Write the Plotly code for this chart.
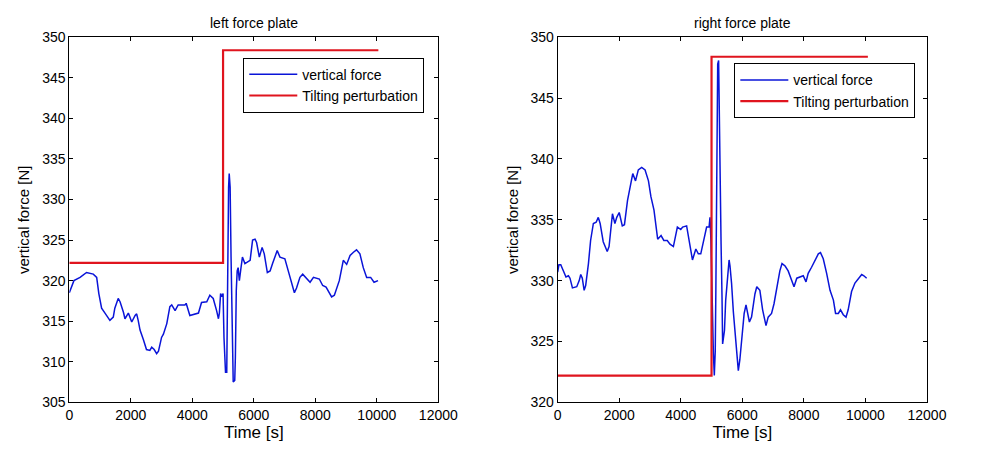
import plotly.graph_objects as go

# ---- data ----
left_t = [0, 150, 350, 560, 780, 890, 960, 1050, 1160, 1320, 1430, 1480, 1590, 1650, 1760, 1810, 1920, 1980, 2030,
          2140, 2190, 2240, 2300, 2410, 2510, 2620, 2680, 2760, 2840, 2900, 3000, 3060, 3170, 3270, 3330, 3440,
          3540, 3760, 3800, 3920, 4200, 4300, 4470, 4570, 4680, 4790, 4850, 4880, 4920, 4960, 5000, 5030, 5080,
          5120, 5140, 5160, 5180, 5200, 5230, 5260, 5290, 5330, 5380, 5400, 5430, 5460, 5490, 5530, 5570, 5630,
          5710, 5820, 5880, 5960, 6040, 6090, 6180, 6270, 6340, 6440, 6530, 6610, 6690, 6760, 6850, 7010, 7150,
          7320, 7390, 7500, 7590, 7700, 7830, 7940, 8130, 8240, 8350, 8530, 8620, 8780, 8910, 9020, 9130, 9240,
          9340, 9450, 9560, 9670, 9800, 9910, 10000, 10040]
left_f = [318.5, 320.0, 320.4, 321.0, 320.8, 320.4, 318.4, 316.6, 316.0, 315.1, 315.5, 316.6, 317.8, 317.4, 316.1,
          315.3, 316.0, 315.5, 314.9, 315.7, 315.9, 315.1, 313.9, 312.7, 311.5, 311.4, 311.8, 311.5, 311.0, 311.3,
          313.0, 313.4, 314.7, 316.8, 317.0, 316.3, 317.0, 317.0, 317.2, 315.7, 316.0, 317.3, 317.4, 318.2, 317.8,
          316.3, 315.3, 316.0, 318.4, 318.0, 318.4, 313.0, 308.7, 308.7, 319.2, 322.5, 331.5, 333.2, 331.5, 322.9,
          314.3, 307.5, 307.7, 310.5, 318.8, 321.2, 321.6, 320.0, 321.2, 322.9, 322.1, 322.3, 322.5, 325.0, 325.1,
          324.7, 322.9, 324.1, 323.3, 321.0, 321.2, 322.1, 322.9, 323.7, 322.9, 322.7, 320.8, 318.5, 319.1, 320.4,
          320.8, 320.4, 319.8, 320.4, 320.2, 319.4, 319.2, 318.0, 318.2, 320.0, 322.5, 322.0, 323.1, 323.5, 323.8,
          323.3, 321.6, 320.4, 320.4, 319.8, 320.0, 320.0]

right_t = [0, 40, 100, 180, 270, 350, 400, 480, 620, 700, 750, 800, 860, 910, 1000, 1070, 1160, 1250, 1320, 1380,
           1480, 1610, 1670, 1780, 1860, 1920, 2000, 2100, 2170, 2270, 2350, 2440, 2530, 2620, 2730, 2840, 2950,
           3030, 3130, 3250, 3360, 3450, 3560, 3650, 3760, 3890, 4000, 4060, 4190, 4280, 4380, 4490, 4570, 4650,
           4770, 4840, 4920, 4950, 4980, 5030, 5060, 5090, 5120, 5140, 5180, 5200, 5230, 5260, 5310, 5340, 5360,
           5420, 5460, 5510, 5570, 5600, 5650, 5710, 5780, 5870, 5920, 5990, 6060, 6120, 6170, 6230, 6300, 6410,
           6470, 6570, 6660, 6770, 6840, 6950, 7030, 7140, 7220, 7290, 7390, 7490, 7600, 7680, 7770, 7870, 7980,
           8070, 8140, 8250, 8360, 8470, 8540, 8630, 8740, 8850, 8960, 9030, 9120, 9190, 9280, 9370, 9440, 9550,
           9660, 9770, 9880, 9950, 10040]
right_f = [330.7, 331.3, 331.3, 330.8, 330.3, 330.4, 330.2, 329.4, 329.5, 330.0, 330.5, 330.2, 329.2, 329.6, 331.4,
           333.3, 334.7, 334.8, 335.2, 334.7, 333.2, 332.4, 332.8, 335.5, 334.7, 335.2, 335.6, 334.5, 334.6, 336.6,
           337.7, 338.8, 338.2, 339.1, 339.3, 339.1, 338.2, 336.9, 335.8, 333.4, 333.7, 333.3, 333.3, 333.0, 332.8,
           334.4, 334.2, 334.4, 334.5, 333.2, 331.7, 332.6, 332.2, 332.2, 333.6, 334.4, 334.4, 335.2, 333.3, 325.4,
           324.0, 322.2, 324.2, 329.1, 344.8, 347.8, 348.1, 340.7, 333.0, 328.7, 324.8, 325.9, 328.4, 329.9, 331.7,
           331.2, 329.8, 327.4, 325.1, 322.6, 323.5, 325.4, 327.3, 328.0, 327.3, 326.6, 327.0, 328.9, 329.5, 329.2,
           327.6, 326.3, 327.0, 327.3, 328.1, 329.8, 330.8, 331.4, 331.2, 330.8, 330.0, 329.5, 330.2, 330.3, 330.4,
           329.9, 330.6, 331.1, 331.7, 332.2, 332.3, 331.8, 330.6, 329.2, 328.4, 327.3, 327.3, 327.6, 327.2, 327.0,
           327.6, 329.1, 329.8, 330.2, 330.5, 330.4, 330.2]

left_step_t = [0, 5000, 5000, 10050]
left_step_f = [322.2, 322.2, 348.4, 348.4]
right_step_t = [0, 5000, 5000, 10080]
right_step_f = [322.2, 322.2, 348.4, 348.4]

x_ticks = [0, 2000, 4000, 6000, 8000, 10000, 12000]
x_tick_labels = ["0", "2000", "4000", "6000", "8000", "10000", "12000"]
left_y_ticks = [305, 310, 315, 320, 325, 330, 335, 340, 345, 350]
right_y_ticks = [320, 325, 330, 335, 340, 345, 350]

BLUE = "#0a14d8"
RED = "#e0141e"
FONT = "Liberation Sans, Arial, sans-serif"

fig = go.Figure()
fig.add_trace(go.Scatter(x=left_t, y=left_f, mode="lines", name="vertical force",
                         line=dict(color=BLUE, width=1.5), xaxis="x", yaxis="y", legend="legend"))
fig.add_trace(go.Scatter(x=left_step_t, y=left_step_f, mode="lines", name="Tilting perturbation",
                         line=dict(color=RED, width=2.2), xaxis="x", yaxis="y", legend="legend"))
fig.add_trace(go.Scatter(x=right_t, y=right_f, mode="lines", name="vertical force",
                         line=dict(color=BLUE, width=1.5), xaxis="x2", yaxis="y2", legend="legend2"))
fig.add_trace(go.Scatter(x=right_step_t, y=right_step_f, mode="lines", name="Tilting perturbation",
                         line=dict(color=RED, width=2.2), xaxis="x2", yaxis="y2", legend="legend2"))

ax_common = dict(showline=True, linecolor="black", linewidth=1, mirror="ticks", ticks="inside",
                 ticklen=4, tickcolor="black", showgrid=False, zeroline=False, automargin=False,
                 tickfont=dict(family=FONT, size=14, color="black"))

fig.update_layout(
    width=993, height=457,
    margin=dict(l=0, r=0, t=0, b=0),
    paper_bgcolor="white", plot_bgcolor="white",
    font=dict(family=FONT, color="black"),
    showlegend=True,
    xaxis=dict(domain=[0.0698, 0.4414], range=[0, 12000], tickvals=x_ticks, ticktext=x_tick_labels,
               anchor="y", title=dict(text="Time [s]", font=dict(size=17), standoff=4), **ax_common),
    yaxis=dict(domain=[0.1197, 0.9184], range=[305, 350], tickvals=left_y_ticks, anchor="x",
               title=dict(text="vertical force [N]", font=dict(size=15), standoff=8), **ax_common),
    xaxis2=dict(domain=[0.5616, 0.9335], range=[0, 12000], tickvals=x_ticks, ticktext=x_tick_labels,
                anchor="y2", title=dict(text="Time [s]", font=dict(size=17), standoff=4), **ax_common),
    yaxis2=dict(domain=[0.1197, 0.9184], range=[320, 350], tickvals=right_y_ticks, anchor="x2",
                title=dict(text="vertical force [N]", font=dict(size=15), standoff=8), **ax_common),
    legend=dict(x=0.245, y=0.8737, xanchor="left", yanchor="top", bgcolor="white",
                bordercolor="black", borderwidth=1, font=dict(size=14), tracegroupgap=0,
                itemwidth=48),
    legend2=dict(x=0.7395, y=0.8615, xanchor="left", yanchor="top", bgcolor="white",
                 bordercolor="black", borderwidth=1, font=dict(size=14), tracegroupgap=0,
                 itemwidth=48),
    annotations=[
        dict(text="left force plate", x=0.2556, y=1 - 23 / 457, xref="paper", yref="paper",
             showarrow=False, font=dict(size=14), xanchor="center", yanchor="middle"),
        dict(text="right force plate", x=0.7475, y=1 - 23 / 457, xref="paper", yref="paper",
             showarrow=False, font=dict(size=14), xanchor="center", yanchor="middle"),
    ],
)

fig.write_html("out.html", config={"displayModeBar": False},
               post_script="document.body.style.margin='0';")
